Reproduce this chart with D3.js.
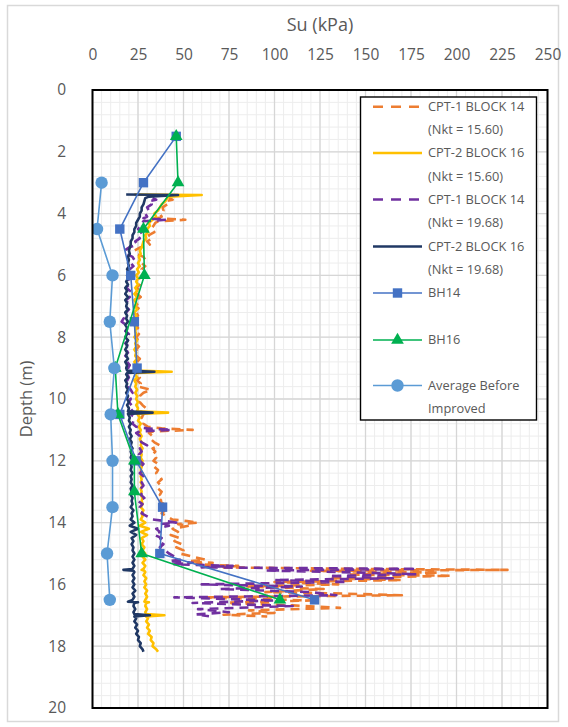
<!DOCTYPE html>
<html><head><meta charset="utf-8">
<script src="https://cdn.jsdelivr.net/npm/d3@7"></script>
<style>body{margin:0;background:#fff}svg{display:block}text{font-family:"Open Sans",sans-serif;fill:#595959}</style>
</head><body><svg id="c" width="568" height="727"></svg>
<script>
// ---- data ----
const xTicks = [0,25,50,75,100,125,150,175,200,225,250];
const yTicks = [0,2,4,6,8,10,12,14,16,18,20];
const seriesNames = ["CPT-1 BLOCK 14|(Nkt = 15.60)","CPT-2 BLOCK 16|(Nkt = 15.60)","CPT-1 BLOCK 14|(Nkt = 19.68)","CPT-2 BLOCK 16|(Nkt = 19.68)","BH14","BH16","Average Before|Improved"];
// [depth (m), Su (kPa)]
const cpt1Nkt1560 = [[3.5,42],[3.55,44],[3.6,40],[3.7,41],[3.8,38.5],[3.9,39],[4.0,37],[4.1,38],[4.15,36],[4.2,51],[4.25,36],[4.3,34.5],[4.4,33.5],[4.5,32],[4.6,34],[4.7,31],[4.8,33],[4.9,30],[5.0,31.5],[5.1,26],[5.2,23],[5.3,24],[5.4,28],[5.5,29],[5.6,27],[5.7,29],[5.8,27],[5.9,28],[6.0,29],[6.1,25.5],[6.2,27],[6.3,26],[6.4,24],[6.5,26.5],[6.6,24.5],[6.7,26.5],[6.8,24],[6.9,25],[7.0,23.5],[7.1,26],[7.2,24],[7.3,25],[7.4,22],[7.5,21],[7.6,24],[7.7,25],[7.8,23.5],[7.9,25.5],[8.0,24],[8.1,25],[8.2,23.5],[8.3,25.5],[8.4,24],[8.5,25.5],[8.6,24],[8.7,26],[8.8,24.5],[8.9,26],[9.0,25],[9.1,26.5],[9.2,24.5],[9.3,26],[9.4,24.5],[9.5,26.5],[9.6,25],[9.7,32],[9.8,28],[9.9,26],[10.0,27],[10.1,26],[10.2,27.5],[10.3,29.5],[10.4,27],[10.5,28],[10.6,27],[10.7,29],[10.8,28],[10.9,30.5],[10.95,38],[11.0,55],[11.05,33],[11.1,31],[11.2,33],[11.3,32],[11.4,34],[11.5,37],[11.6,33],[11.7,34.5],[11.8,33],[11.9,35],[12.0,33.5],[12.1,36],[12.2,34],[12.3,36],[12.4,35],[12.5,37],[12.6,38],[12.7,36],[12.8,37.5],[12.9,36],[13.0,38],[13.1,37],[13.2,39],[13.3,37],[13.4,39],[13.5,38],[13.6,40],[13.7,38],[13.8,41],[13.9,44],[13.95,52],[14.0,58],[14.05,47],[14.1,53],[14.2,44],[14.3,47],[14.4,43],[14.5,48],[14.6,45],[14.7,49],[14.8,46],[14.9,50],[15.0,48],[15.1,55],[15.2,62],[15.25,53],[15.3,66],[15.35,57],[15.4,80],[15.45,72],[15.5,150],[15.53,228],[15.56,120],[15.62,190],[15.68,140],[15.72,197],[15.8,130],[15.86,170],[15.92,100],[16.0,135],[16.07,85],[16.15,127],[16.25,95],[16.3,140],[16.35,170],[16.42,60],[16.52,120],[16.6,70],[16.68,110],[16.76,136],[16.84,86],[16.92,100],[16.98,72],[17.04,96]];
const cpt2Nkt1560 = [[3.38,23],[3.40,60],[3.45,42],[3.5,41],[3.6,40],[3.7,38],[3.8,37],[3.9,36],[4.0,34],[4.1,35],[4.2,33],[4.3,31],[4.4,31.5],[4.5,30],[4.6,30.5],[4.7,29],[4.8,29.5],[4.9,28],[5.0,27.5],[5.1,27],[5.2,26],[5.3,26.5],[5.4,25.5],[5.5,26],[5.6,25],[5.7,26],[5.8,24.5],[5.9,25.5],[6.0,24],[6.1,25],[6.2,24],[6.3,25],[6.4,23.5],[6.5,24.5],[6.6,23],[6.7,24.5],[6.8,23],[6.9,24],[7.0,23.5],[7.1,24.5],[7.2,23],[7.3,24],[7.4,23.5],[7.5,24.5],[7.6,23],[7.7,24],[7.8,23.5],[7.9,24],[8.0,23],[8.1,24.5],[8.2,23.5],[8.3,24],[8.4,23],[8.5,24],[8.6,23.5],[8.7,24.5],[8.8,23],[8.9,24],[9.0,23.5],[9.08,24],[9.12,43.5],[9.16,24],[9.2,23.5],[9.3,24.5],[9.4,23],[9.5,24],[9.6,23.5],[9.7,24.5],[9.8,23.5],[9.9,24.5],[10.0,24],[10.1,25],[10.2,24],[10.3,25],[10.4,24.5],[10.44,41.5],[10.48,24.5],[10.6,26],[10.7,25],[10.8,26.5],[10.9,25.5],[11.0,26.5],[11.1,26],[11.2,27],[11.3,26],[11.4,27],[11.5,26.5],[11.6,27.5],[11.7,26.5],[11.8,27],[11.9,26.5],[12.0,27.5],[12.1,26.5],[12.2,27],[12.3,26.5],[12.4,27.5],[12.5,26.5],[12.6,27],[12.7,26.5],[12.8,27.5],[12.9,26.5],[13.0,27],[13.1,26.5],[13.2,27.5],[13.3,27],[13.4,27.5],[13.5,26.5],[13.6,28],[13.7,27],[13.8,27.5],[13.9,26.5],[14.0,29],[14.1,26],[14.2,31],[14.3,26.5],[14.4,30],[14.5,27],[14.6,28],[14.7,27],[14.8,28.5],[14.9,27.5],[15.0,29],[15.1,27.5],[15.2,29],[15.3,27.5],[15.4,29],[15.5,28],[15.53,27],[15.56,28.5],[15.6,29],[15.7,28],[15.8,29.5],[15.9,28.5],[16.0,29.5],[16.1,28.5],[16.2,30],[16.3,29],[16.4,30],[16.5,29],[16.56,28.5],[16.58,31],[16.6,29.5],[16.7,29],[16.8,30],[16.9,29],[16.96,29.5],[17.0,39.5],[17.04,29.5],[17.1,30.5],[17.2,29.5],[17.3,31],[17.4,30],[17.5,31.5],[17.6,30.5],[17.7,32.5],[17.8,32],[17.9,33.5],[18.0,33],[18.1,35],[18.18,36]];
const cpt1Nkt1968 = [[3.5,33],[3.55,35],[3.6,31],[3.7,32.5],[3.8,30],[3.9,31],[4.0,29],[4.1,30],[4.15,28],[4.2,40.5],[4.25,28],[4.3,27],[4.4,26.5],[4.5,25],[4.6,27],[4.7,24.5],[4.8,26],[4.9,23.5],[5.0,24.5],[5.1,20],[5.2,17.5],[5.3,18.5],[5.4,22],[5.5,23],[5.6,21],[5.7,22.5],[5.8,20.5],[5.9,21.5],[6.0,22.5],[6.1,19.5],[6.2,21],[6.3,20],[6.4,18.5],[6.5,20.5],[6.6,19],[6.7,20.5],[6.8,18.5],[6.9,19.5],[7.0,18],[7.1,20],[7.2,18.5],[7.3,19.5],[7.4,17],[7.5,16],[7.6,18.5],[7.7,19.5],[7.8,18],[7.9,20],[8.0,18.5],[8.1,19.5],[8.2,18],[8.3,20],[8.4,18.5],[8.5,19.5],[8.6,18],[8.7,20],[8.8,19],[8.9,20.5],[9.0,19.5],[9.1,20.5],[9.2,19],[9.3,20],[9.4,19],[9.5,20.5],[9.6,19.5],[9.7,21],[9.8,22],[9.9,20],[10.0,21],[10.1,20],[10.2,21.5],[10.3,23],[10.4,21],[10.5,22],[10.6,21],[10.7,22.5],[10.8,22],[10.9,24],[10.95,30],[11.0,43.5],[11.05,26],[11.1,24],[11.2,26],[11.3,25],[11.4,27],[11.5,30],[11.6,26],[11.7,27],[11.8,25.5],[11.9,27],[12.0,26],[12.1,28],[12.2,26.5],[12.3,27.5],[12.4,26],[12.5,28],[12.6,29],[12.7,27],[12.8,28],[12.9,26.5],[13.0,28],[13.1,26.5],[13.2,28.5],[13.3,25],[13.4,27.5],[13.5,26],[13.6,28],[13.7,27],[13.8,30],[13.9,33],[13.95,40],[14.0,46],[14.05,37],[14.1,42],[14.2,35],[14.3,37],[14.4,34],[14.5,38],[14.6,36],[14.7,39],[14.8,37],[14.9,40],[15.0,42],[15.1,45],[15.2,48],[15.25,42],[15.3,55],[15.35,45],[15.4,77],[15.45,60],[15.5,178],[15.55,95],[15.62,150],[15.67,178],[15.73,130],[15.8,165],[15.86,100],[15.92,140],[16.0,60],[16.07,115],[16.15,70],[16.25,120],[16.35,134],[16.42,45],[16.52,100],[16.6,55],[16.7,110],[16.8,58],[16.9,75],[16.97,57],[17.03,64]];
const cpt2Nkt1968 = [[3.38,18.5],[3.40,47],[3.45,31],[3.5,29],[3.6,28.5],[3.7,28],[3.8,27],[3.9,27],[4.0,26],[4.1,26],[4.2,25],[4.3,24],[4.4,24],[4.5,23],[4.6,23],[4.7,22],[4.8,22],[4.9,21],[5.0,21],[5.1,20.5],[5.2,20],[5.3,20.5],[5.4,19.5],[5.5,20],[5.6,19.5],[5.7,20],[5.8,19],[5.9,20],[6.0,19],[6.1,19.5],[6.2,18.5],[6.3,19.5],[6.4,18],[6.5,19],[6.6,18],[6.7,19.5],[6.8,18],[6.9,19],[7.0,18.5],[7.1,19.5],[7.2,18],[7.3,19],[7.4,18.5],[7.5,19.5],[7.6,18],[7.7,19],[7.8,18.5],[7.9,19],[8.0,18],[8.1,19.5],[8.2,18.5],[8.3,19],[8.4,18],[8.5,19],[8.6,18.5],[8.7,19.5],[8.8,18],[8.9,19],[9.0,18.5],[9.08,19],[9.12,34],[9.16,19],[9.2,18.5],[9.3,19.5],[9.4,18],[9.5,19],[9.6,18.5],[9.7,19.5],[9.8,18.5],[9.9,19.5],[10.0,19],[10.1,20],[10.2,19],[10.3,20],[10.4,19.5],[10.44,33],[10.48,19.5],[10.6,20.5],[10.7,20],[10.8,21],[10.9,20],[11.0,21],[11.1,20.5],[11.2,21.5],[11.3,20.5],[11.4,21.5],[11.5,21],[11.6,22],[11.7,21],[11.8,21.5],[11.9,21],[12.0,22],[12.1,21],[12.2,21.5],[12.3,21],[12.4,22],[12.5,21],[12.6,21.5],[12.7,21],[12.8,22],[12.9,21],[13.0,21.5],[13.1,21],[13.2,22],[13.3,21.5],[13.4,22],[13.5,21],[13.6,22.5],[13.7,21.5],[13.8,22],[13.9,21],[14.0,23],[14.1,20.5],[14.2,25],[14.3,21],[14.4,24],[14.5,21.5],[14.6,22.5],[14.7,21.5],[14.8,22.5],[14.9,22],[15.0,23],[15.1,22],[15.2,23],[15.3,22],[15.4,23],[15.5,22],[15.53,17],[15.56,22.5],[15.6,23],[15.7,22],[15.8,23],[15.9,22],[16.0,23],[16.1,22],[16.2,23.5],[16.3,22],[16.4,23],[16.5,22],[16.56,19.5],[16.58,25],[16.6,23],[16.7,22.5],[16.8,23.5],[16.9,22.5],[16.96,23],[17.0,31.5],[17.04,23],[17.1,24],[17.2,23],[17.3,24.5],[17.4,23.5],[17.5,25],[17.6,24],[17.7,25.5],[17.8,25],[17.9,26.5],[18.0,26],[18.1,27.5],[18.18,28]];
const bh14 = [[1.5,46],[3,28],[4.5,15],[6,21],[7.5,23],[9,24.5],[10.5,15],[12,24],[13.5,38.5],[15,37],[16.5,122]];
const bh16 = [[1.5,46],[3,47],[4.5,28],[6,28.5],[9,12.5],[10.5,14],[12,23],[13,23],[15,27],[16.5,103]];
const avgBefore = [[3,5],[4.5,2.5],[6,11],[7.5,9.5],[9,12],[10.5,10],[12,11],[13.5,11],[15,8],[16.5,9.5]];

// ---- chart ----
const svg = d3.select("#c");
const L=92.5, R=547.5, T=90, B=708;
const x = d3.scaleLinear().domain([0,250]).range([L,R]);
const y = d3.scaleLinear().domain([0,20]).range([T,B]);

svg.append("rect").attr("x",0).attr("y",0).attr("width",568).attr("height",727).attr("fill","#fff");
svg.append("rect").attr("x",7.5).attr("y",5.5).attr("width",551).attr("height",716).attr("fill","none").attr("stroke","#d9d9d9").attr("stroke-width",1.5);

const g = svg.append("g");
g.selectAll(".vm").data(d3.range(0,251,5)).join("line").attr("x1",d=>x(d)).attr("x2",d=>x(d)).attr("y1",T).attr("y2",B).attr("stroke","#ededed").attr("stroke-width",1);
g.selectAll(".hm").data(d3.range(0,20.01,0.4)).join("line").attr("y1",d=>y(d)).attr("y2",d=>y(d)).attr("x1",L).attr("x2",R).attr("stroke","#ededed").attr("stroke-width",1);
g.selectAll(".vM").data(xTicks).join("line").attr("x1",d=>x(d)).attr("x2",d=>x(d)).attr("y1",T).attr("y2",B).attr("stroke","#d6d6d6").attr("stroke-width",1.3);
g.selectAll(".hM").data(yTicks).join("line").attr("y1",d=>y(d)).attr("y2",d=>y(d)).attr("x1",L).attr("x2",R).attr("stroke","#d6d6d6").attr("stroke-width",1.3);

const xAxis = d3.axisTop(x).tickValues(xTicks).tickSize(0).tickPadding(0);
const xa = svg.append("g").attr("transform",`translate(0,60)`).call(xAxis);
xa.select(".domain").remove();
xa.selectAll("text").attr("font-size",15.5).attr("fill","#595959").attr("font-family","'Open Sans',sans-serif");
const yAxis = d3.axisLeft(y).tickValues(yTicks).tickSize(0).tickPadding(0);
const ya = svg.append("g").attr("transform",`translate(66,0)`).call(yAxis);
ya.select(".domain").remove();
ya.selectAll("text").attr("font-size",15.5).attr("fill","#595959").attr("font-family","'Open Sans',sans-serif");

svg.append("text").attr("x",(L+R)/2).attr("y",31).attr("text-anchor","middle").attr("font-size",18).text("Su (kPa)");
svg.append("text").attr("transform",`translate(32,${(T+B)/2}) rotate(-90)`).attr("text-anchor","middle").attr("font-size",16.5).text("Depth (m)");

svg.append("clipPath").attr("id","pc").append("rect").attr("x",L).attr("y",T).attr("width",R-L).attr("height",B-T);
const line = d3.line().x(d=>x(d[1])).y(d=>y(d[0]));
const pg = svg.append("g").attr("clip-path","url(#pc)");
const styles = [
  {data:cpt1Nkt1560,color:"#ED7D31",w:2.6,dash:"9,6"},
  {data:cpt2Nkt1560,color:"#FFC000",w:2.6,dash:null},
  {data:cpt1Nkt1968,color:"#7030A0",w:2.6,dash:"9,6"},
  {data:cpt2Nkt1968,color:"#203864",w:2.6,dash:null},
  {data:bh14,color:"#4472C4",w:1.6,dash:null,marker:"square"},
  {data:bh16,color:"#00B050",w:1.6,dash:null,marker:"triangle"},
  {data:avgBefore,color:"#5B9BD5",w:1.6,dash:null,marker:"circle"}
];
function drawMarker(sel, type, color){
  if(type==="square") sel.append("rect").attr("x",-4.7).attr("y",-4.7).attr("width",9.4).attr("height",9.4).attr("fill",color);
  else if(type==="triangle") sel.append("path").attr("d",d3.symbol(d3.symbolTriangle,70)()).attr("fill",color);
  else if(type==="circle") sel.append("circle").attr("r",6.2).attr("fill",color);
}
styles.forEach(s=>{
  pg.append("path").attr("d",line(s.data)).attr("fill","none").attr("stroke",s.color).attr("stroke-width",s.w)
    .attr("stroke-dasharray",s.dash).attr("stroke-linejoin","round");
  if(s.marker){
    pg.selectAll(null).data(s.data).join("g").attr("transform",d=>`translate(${x(d[1])},${y(d[0])})`)
      .each(function(){ drawMarker(d3.select(this), s.marker, s.color); });
  }
});

svg.append("rect").attr("x",L).attr("y",T).attr("width",R-L).attr("height",B-T).attr("fill","none").attr("stroke","#000").attr("stroke-width",2);

const lg = svg.append("g");
lg.append("rect").attr("x",360.5).attr("y",97).attr("width",176).attr("height",323).attr("fill","#fff").attr("stroke","#000").attr("stroke-width",1.4);
const rowY = [106.7,153,199.5,246.5,293,340,385.5];
styles.forEach((s,i)=>{
  const yy = rowY[i];
  lg.append("line").attr("x1",373).attr("x2",422).attr("y1",yy).attr("y2",yy).attr("stroke",s.color)
    .attr("stroke-width",s.w).attr("stroke-dasharray",s.dash?"10,8":null);
  if(s.marker){ const m=lg.append("g").attr("transform",`translate(397.5,${yy})`); drawMarker(m,s.marker,s.color); }
  seriesNames[i].split("|").forEach((p,k)=>{
    lg.append("text").attr("x",428).attr("y",yy+k*23.3).attr("dy","0.35em").attr("font-size",12.8).text(p);
  });
});
</script></body></html>
